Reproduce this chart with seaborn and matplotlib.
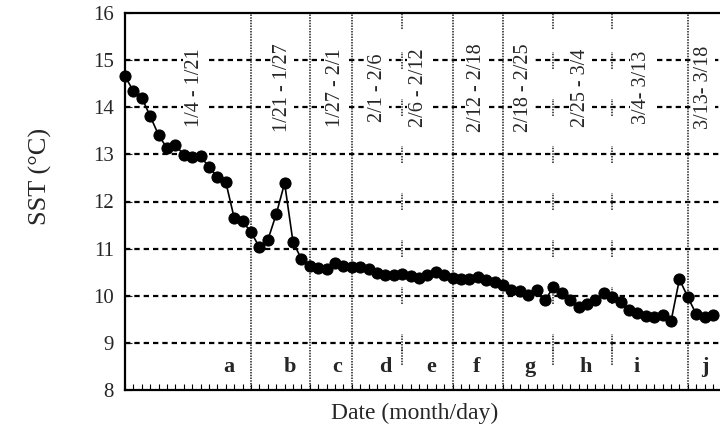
import numpy as np
import pandas as pd
import matplotlib
matplotlib.use("Agg")
import matplotlib.pyplot as plt
import seaborn as sns

# ---- data ----
sst = [14.66, 14.34, 14.20, 13.81, 13.41, 13.13, 13.20, 12.99, 12.94, 12.96,
       12.73, 12.52, 12.41, 11.65, 11.58, 11.35, 11.03, 11.18, 11.73, 12.39,
       11.14, 10.78, 10.63, 10.59, 10.57, 10.70, 10.63, 10.62, 10.60, 10.56,
       10.48, 10.45, 10.44, 10.47, 10.42, 10.37, 10.45, 10.50, 10.43, 10.38,
       10.35, 10.36, 10.40, 10.34, 10.30, 10.22, 10.12, 10.10, 10.01, 10.12,
       9.91, 10.18, 10.06, 9.91, 9.76, 9.82, 9.91, 10.06, 9.97, 9.86,
       9.69, 9.63, 9.57, 9.55, 9.59, 9.46, 10.35, 9.97, 9.61, 9.55, 9.59]
boundaries = [15, 22, 27, 33, 39, 45, 51, 58, 67]
broken_boundaries = [33, 51, 58]
period_labels = ["1/4 - 1/21", "1/21 - 1/27", "1/27 - 2/1", "2/1 - 2/6", "2/6 - 2/12",
                 "2/12 - 2/18", "2/18 - 2/25", "2/25 - 3/4", "3/4- 3/13", "3/13- 3/18"]
letters = ["a", "b", "c", "d", "e", "f", "g", "h", "i", "j"]
yticks = [8, 9, 10, 11, 12, 13, 14, 15, 16]

# ---- layout (not data) ----
period_label_x = [8.3, 18.8, 25.1, 30.0, 34.9, 41.8, 47.4, 54.2, 61.5, 68.9]
letter_x = [12.4, 19.6, 25.2, 31.0, 36.5, 41.9, 48.2, 54.8, 60.9, 69.0]
broken_centres = [8.72, 9, 10, 11, 12, 13, 14, 15, 15.85]

df = pd.DataFrame({"obs": np.arange(len(sst)), "SST": sst})

sns.set_style("ticks")
plt.rcParams["font.family"] = ["Liberation Serif", "DejaVu Serif"]

fig = plt.figure(figsize=(7.2, 4.29), dpi=100)
ax = fig.add_axes([125 / 720, 1 - 390 / 429, 595 / 720, 377 / 429])

# horizontal dashed grid
for y in yticks[1:-1]:
    ax.axhline(y, color="black", lw=1.6, linestyle=(0, (2.4, 1.8)), zorder=1)

# vertical period boundaries
for b in boundaries:
    if b in broken_boundaries:
        ax.vlines([b] * len(broken_centres), [c - 0.18 for c in broken_centres],
                  [c + 0.18 for c in broken_centres], color="#222222", lw=1.1,
                  linestyle=(0, (1, 0.8)), zorder=1)
    else:
        ax.axvline(b, color="#222222", lw=1.1, linestyle=(0, (1, 0.8)), zorder=1)

sns.lineplot(data=df, x="obs", y="SST", ax=ax, color="black", lw=1.2,
             marker="o", markersize=8, markeredgecolor="black", markerfacecolor="black",
             zorder=4, clip_on=False)

for x, lab in zip(period_label_x, period_labels):
    ax.text(x, 14.42, lab, rotation=90, ha="center", va="center", fontsize=14.5, zorder=2,
            bbox=dict(facecolor="white", edgecolor="none", pad=1.5))
for x, lab in zip(letter_x, letters):
    ax.text(x, 8.48, lab, ha="center", va="center", fontsize=16, fontweight="bold", zorder=2)

ax.set_xlim(0, 70.83)
ax.set_ylim(8, 16)
ax.set_yticks(yticks)
ax.set_yticklabels([str(v) for v in yticks])
ax.set_xticks(np.arange(0, 71))
ax.set_xticklabels([])
ax.tick_params(axis="x", direction="in", length=4, width=0.8, color="black")
ax.tick_params(axis="y", direction="in", length=5, width=0.8, labelsize=15, pad=8)
ax.set_xlabel("")
ax.set_ylabel("")
for s in ["left", "bottom", "top"]:
    ax.spines[s].set_linewidth(1.6)
    ax.spines[s].set_color("black")
    ax.spines[s].set_zorder(5)
ax.spines["right"].set_visible(False)

fig.text(415 / 720, 1 - 413 / 429, "Date (month/day)", ha="center", va="center", fontsize=17)
fig.text(40 / 720, 1 - 176 / 429, "SST (\u00b0C)", ha="center", va="center", rotation=90, fontsize=19)

fig.savefig("out.png", dpi=100)
